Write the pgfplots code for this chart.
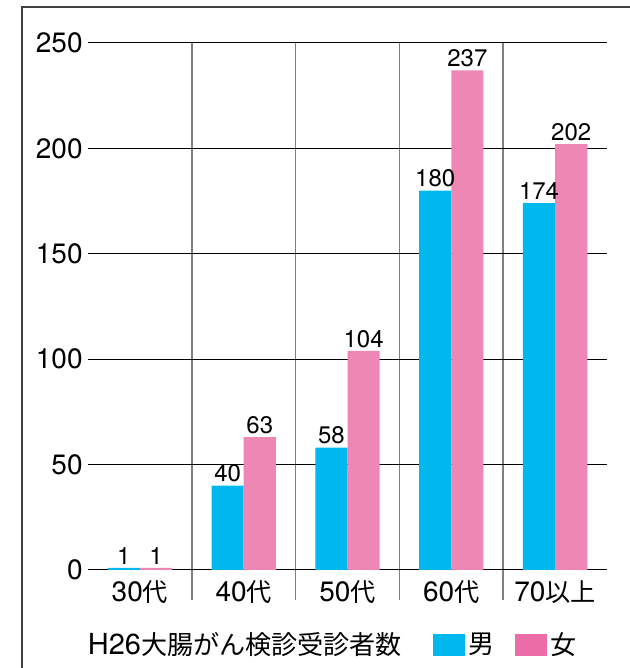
\documentclass[border=0pt]{standalone}
\usepackage{fontspec}
\setmainfont{TeX Gyre Heros}
\newfontfamily\cjk[Scale=0.9]{Noto Sans CJK JP}
\usepackage{pgfplots}
\pgfplotsset{compat=1.18}
\definecolor{mblue}{HTML}{00B8EE}
\definecolor{fpink}{HTML}{EE87B3}
\definecolor{lpink}{HTML}{EC6CA5}
\definecolor{sepgray}{HTML}{808080}
\begin{document}
\begin{tikzpicture}
\useasboundingbox (0,0) rectangle (315pt,334pt);
\draw[line width=0.7pt, black!75] (11pt,0) -- (11pt,330.5pt) -- (315pt,330.5pt);
\begin{axis}[
  at={(44pt,49pt)}, anchor=south west,
  scale only axis, width=259.5pt, height=263.5pt,
  xmin=-0.5, xmax=4.5, ymin=0, ymax=250,
  axis line style={draw=none},
  clip=false,
  ybar=0pt, bar width=0.31,
  ytick={0,50,100,150,200,250},
  ymajorgrids, major grid style={black, line width=0.5pt},
  xtick={0,1,2,3,4},
  xticklabels={30{\cjk 代},40{\cjk 代},50{\cjk 代},60{\cjk 代},70{\cjk 以上}},
  minor xtick={0.5,1.5,2.5,3.5},
  xminorgrids, minor grid style={sepgray, line width=0.75pt},
  major tick length=0pt, minor tick length=15pt, tick align=outside,
  xtick pos=bottom, ytick pos=left,
  minor tick style={sepgray, line width=0.75pt},
  /pgf/number format/assume math mode=true,
  ticklabel style={font=\fontsize{14}{16}\selectfont},
  yticklabel style={inner sep=0pt, xshift=-2.5pt},
  xticklabel style={inner sep=0pt, yshift=-5pt},
  nodes near coords,
  nodes near coords style={font=\fontsize{12}{14}\selectfont, inner sep=1.5pt},
  legend image code/.code={\fill[#1] (0pt,-5.5pt) rectangle (16pt,5.5pt);},
  legend columns=-1,
  legend style={at={(-0.006,-0.142)}, anchor=west, draw=none, inner sep=0pt, outer sep=0pt,
    font=\fontsize{14.5}{16}\selectfont,
    nodes={inner sep=1.5pt},
    /tikz/every even column/.append style={column sep=8pt}},
]
\addplot[fill=mblue, draw=none, forget plot, bar shift=-0.155] coordinates {(0,1) (1,40) (2,58) (3,180) (4,174)};
\addplot[fill=fpink, draw=none, forget plot, bar shift=0.155] coordinates {(0,1) (1,63) (2,104) (3,237) (4,202)};
\addlegendimage{empty legend}
\addlegendentry{H26{\cjk 大腸がん検診受診者数}\rule{6pt}{0pt}}
\addlegendimage{fill=mblue, draw=none}
\addlegendentry{{\cjk 男}\rule{1pt}{0pt}}
\addlegendimage{fill=lpink, draw=none}
\addlegendentry{{\cjk 女}}
\end{axis}
\end{tikzpicture}
\end{document}
